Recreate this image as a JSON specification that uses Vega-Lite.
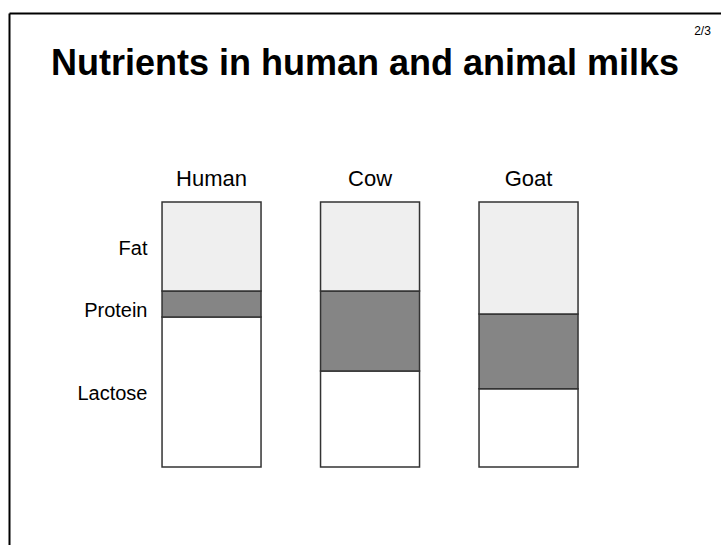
{
  "$schema": "https://vega.github.io/schema/vega-lite/v6.json",
  "width": 712,
  "height": 532,
  "autosize": {"type": "none"},
  "padding": {"left": 9, "top": 13, "right": 0, "bottom": 0},
  "background": "white",
  "config": {"view": {"stroke": null}, "font": "Liberation Sans"},
  "title": {
    "text": "Nutrients in human and animal milks",
    "fontSize": 36,
    "fontWeight": "bold",
    "font": "Liberation Sans",
    "anchor": "middle",
    "frame": "group",
    "offset": -98,
    "baseline": "alphabetic",
    "color": "black"
  },
  "data": {
    "values": [
      {"animal": "Human", "nutrient": "Lactose", "value": 56.6},
      {"animal": "Human", "nutrient": "Protein", "value": 9.8},
      {"animal": "Human", "nutrient": "Fat", "value": 33.6},
      {"animal": "Cow", "nutrient": "Lactose", "value": 36.2},
      {"animal": "Cow", "nutrient": "Protein", "value": 30.2},
      {"animal": "Cow", "nutrient": "Fat", "value": 33.6},
      {"animal": "Goat", "nutrient": "Lactose", "value": 29.5},
      {"animal": "Goat", "nutrient": "Protein", "value": 28.2},
      {"animal": "Goat", "nutrient": "Fat", "value": 42.3}
    ]
  },
  "transform": [
    {"window": [{"op": "row_number", "as": "layer"}], "groupby": ["animal"]}
  ],
  "mark": {"type": "bar", "stroke": "#333333", "strokeWidth": 1.5},
  "encoding": {
    "x": {
      "field": "animal",
      "type": "nominal",
      "sort": ["Human", "Cow", "Goat"],
      "scale": {"paddingInner": 0.3754, "paddingOuter": 0.9338, "align": 0.517},
      "axis": {
        "orient": "top",
        "domain": true,
        "domainColor": "black",
        "domainWidth": 2,
        "ticks": false,
        "tickSize": 0,
        "grid": false,
        "labelFontSize": 22,
        "labelColor": "black",
        "labelPadding": -172,
        "labelBaseline": "alphabetic",
        "labelAngle": 0,
        "title": "2/3",
        "titleFontSize": 12,
        "titleFontWeight": "normal",
        "titleColor": "black",
        "titleX": 693,
        "titleY": 17,
        "titleAlign": "center",
        "titleBaseline": "middle"
      }
    },
    "y": {
      "field": "value",
      "type": "quantitative",
      "stack": "zero",
      "scale": {"domain": [-29.43, 171.32], "nice": false, "zero": false},
      "axis": {
        "orient": "left",
        "values": [27.9, 59.2, 82.6],
        "labelExpr": "datum.value > 70 ? 'Fat' : datum.value > 40 ? 'Protein' : 'Lactose'",
        "domain": true,
        "domainColor": "black",
        "domainWidth": 2,
        "ticks": false,
        "tickSize": 0,
        "grid": false,
        "labelFontSize": 20,
        "labelColor": "black",
        "labelPadding": -138,
        "labelAlign": "right",
        "labelBaseline": "middle",
        "title": null
      }
    },
    "order": {"field": "layer", "type": "quantitative", "sort": "ascending"},
    "fill": {
      "field": "nutrient",
      "type": "nominal",
      "scale": {"domain": ["Lactose", "Protein", "Fat"], "range": ["#ffffff", "#858585", "#efefef"]},
      "legend": null
    }
  }
}
